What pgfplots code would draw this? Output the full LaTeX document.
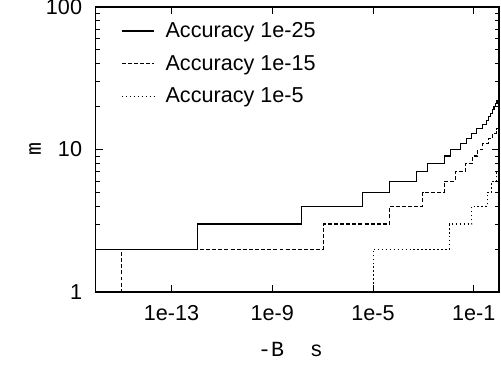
\documentclass[border=0pt]{standalone}
\usepackage{fontspec}
\setmainfont{Liberation Sans}
\setmonofont{Liberation Mono}
\usepackage{pgfplots}
\pgfplotsset{compat=1.18}
\usetikzlibrary{calc}
\newcommand\fs{\fontsize{12}{14}\selectfont}
\begin{document}
\begin{tikzpicture}
\begin{axis}[
  name=ax,
  scale only axis,
  width=223.9pt, height=158.3pt,
  xmode=log, ymode=log,
  xmin=1e-16, xmax=1, ymin=1, ymax=100,
  xtick={1e-13,1e-9,1e-5,1e-1},
  xticklabels={1e-13,1e-9,1e-5,1e-1},
  ytick={1,10,100},
  yticklabels={1,10,100},
  xminorticks=false,
  minor ytick={2,3,4,5,6,7,8,9,20,30,40,50,60,70,80,90},
  tick align=inside,
  major tick length=3.9pt,
  minor tick length=2.2pt,
  every tick/.style={black, line width=0.5pt},
  axis line style={line width=0.6pt},
  tick label style={font=\fs},
  xticklabel style={yshift=-4pt},
  yticklabel style={xshift=-4.2pt},
  xlabel={-B\ \ s},
  ylabel={m},
  label style={font=\fs\ttfamily},
  xlabel style={at={(axis description cs:0.4826,-0.203)}, anchor=center, inner sep=0pt},
  ylabel style={at={(axis description cs:-0.151,0.5)}, anchor=center},
  legend style={draw=none, fill=none, font=\fs,
    at={(axis description cs:0.062,0.961)}, anchor=north west,
    row sep=4.5pt, inner sep=0pt},
  legend cell align=left,
  legend image code/.code={\draw[#1] (0pt,0pt) -- (18pt,0pt); \path (22pt,0pt);},
  every axis plot/.append style={line width=0.6pt, black},
]
\addplot[const plot, solid] coordinates {
(1e-16,2) (1.1e-12,3) (1.48e-8,4) (3.9e-6,5) (4.55e-5,6) (5.4e-4,7)
(1.45e-3,8) (6.9e-3,9) (1.15e-2,10) (3.05e-2,11) (4.95e-2,12) (8.3e-2,13)
(0.132,14) (0.214,15) (0.309,16) (0.389,17) (0.468,18) (0.55,19)
(0.631,20) (0.724,21) (0.832,22) (1,22)
};
\addlegendentry{Accuracy 1e-25}
\addplot[const plot, dash pattern=on 2.2pt off 1.2pt] coordinates {
(1e-16,1) (1e-15,2) (1.1e-7,3) (4.55e-5,4) (9.2e-4,5) (6.6e-3,6)
(1.82e-2,7) (4.6e-2,8) (9.1e-2,9) (0.145,10) (0.23,11) (0.38,12)
(0.56,13) (0.78,14) (1,14)
};
\addlegendentry{Accuracy 1e-15}
\addplot[const plot, dash pattern=on 0.9pt off 1.3pt] coordinates {
(1e-16,1) (1e-5,2) (1.07e-2,3) (8.3e-2,4) (0.35,5) (0.51,6) (0.78,7) (1,7)
};
\addlegendentry{Accuracy 1e-5}
\end{axis}
\pgfresetboundingbox
\path[use as bounding box] ($(ax.south west)+(-53.3pt,-41.7pt)$) rectangle ($(ax.north east)+(1.1pt,3.9pt)$);
\end{tikzpicture}
\end{document}
